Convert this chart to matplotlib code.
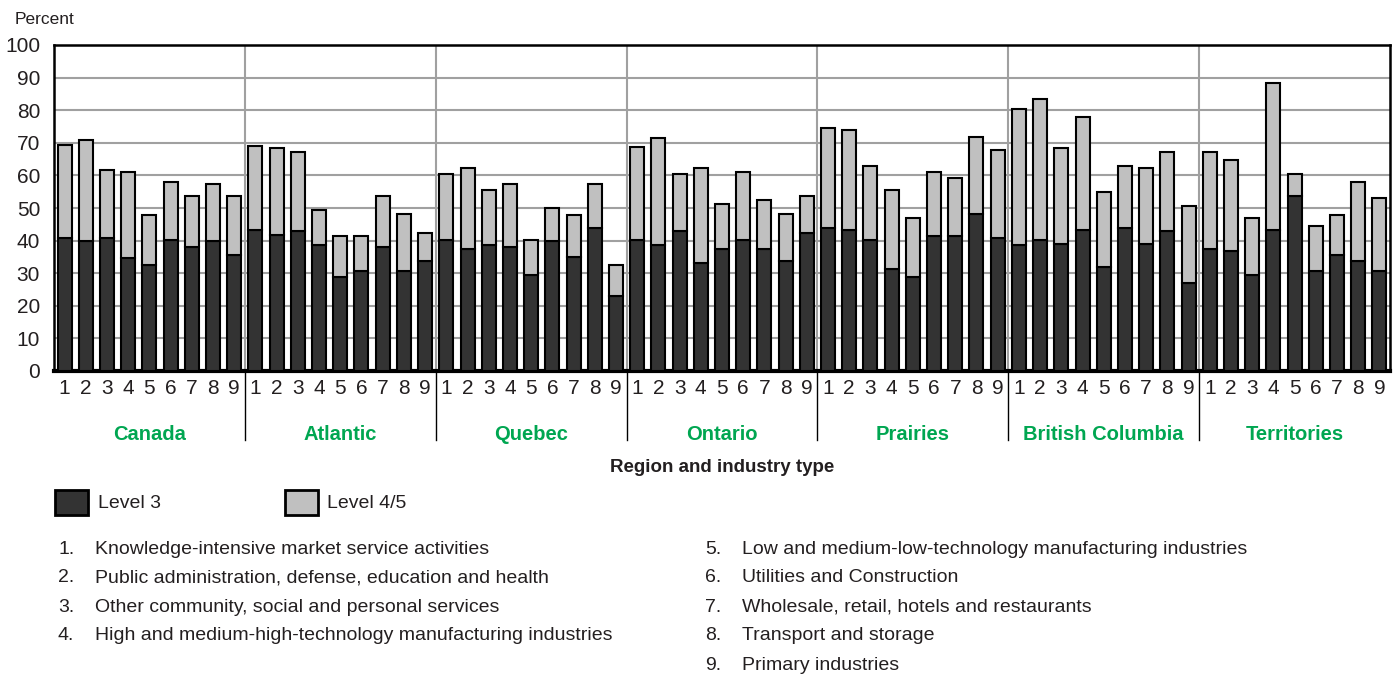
import numpy as np
from matplotlib import pyplot as plt
from matplotlib.patches import Rectangle

##Data

regions = ['Canada', 'Atlantic', 'Quebec', 'Ontario', 'Prairies', 'British Columbia', 'Territories']
industries = ['1', '2', '3', '4', '5', '6', '7', '8', '9']

# level 3 (bottom part) and total height (level 3 + level 4/5), one list per region
level3_canada = [40.9, 39.9, 40.9, 34.8, 32.5, 40.3, 37.9, 39.9, 35.5]
total_canada = [69.4, 70.8, 61.6, 61.0, 47.7, 57.9, 53.8, 57.3, 53.8]
level3_atlantic = [43.4, 41.6, 43.0, 38.6, 28.9, 30.8, 37.9, 30.8, 33.8]
total_atlantic = [68.9, 68.3, 67.1, 49.4, 41.4, 41.4, 53.8, 48.3, 42.3]
level3_quebec = [40.3, 37.4, 38.6, 37.9, 29.4, 39.9, 34.9, 44.0, 22.9]
total_quebec = [60.4, 62.3, 55.5, 57.3, 40.3, 50.1, 47.7, 57.3, 32.5]
level3_ontario = [40.3, 38.6, 43.0, 33.1, 37.4, 40.3, 37.4, 33.8, 42.3]
total_ontario = [68.8, 71.4, 60.4, 62.3, 51.3, 61.0, 52.4, 48.3, 53.8]
level3_prairies = [44.0, 43.4, 40.3, 31.3, 28.9, 41.5, 41.5, 48.3, 40.9]
total_prairies = [74.4, 73.8, 62.8, 55.5, 46.9, 61.0, 59.2, 71.9, 67.7]
level3_bc = [38.5, 40.3, 39.1, 43.4, 31.9, 44.0, 39.1, 42.9, 27.0]
total_bc = [80.4, 83.5, 68.3, 78.0, 54.9, 62.8, 62.2, 67.1, 50.7]
level3_territories = [37.4, 36.8, 29.4, 43.4, 53.8, 30.8, 35.5, 33.8, 30.7]
total_territories = [67.1, 64.7, 46.9, 88.4, 60.4, 44.6, 47.7, 57.9, 53.2]

legend_items = ['Knowledge-intensive market service activities',
                'Public administration, defense, education and health',
                'Other community, social and personal services',
                'High and medium-high-technology manufacturing industries',
                'Low and medium-low-technology manufacturing industries',
                'Utilities and Construction',
                'Wholesale, retail, hotels and restaurants',
                'Transport and storage',
                'Primary industries']

level3 = np.array(level3_canada + level3_atlantic + level3_quebec + level3_ontario
                  + level3_prairies + level3_bc + level3_territories)
total = np.array(total_canada + total_atlantic + total_quebec + total_ontario
                 + total_prairies + total_bc + total_territories)
level45 = total - level3

##Style

plt.rcParams['font.family'] = ['Liberation Sans', 'DejaVu Sans']
dark = '#333333'
light = '#c0c0c0'
green = '#00a651'
txt = '#231f20'
W, H = 1397, 677

fig = plt.figure(figsize=(W / 100, H / 100), dpi=100)
ax = fig.add_axes([54 / W, 1 - 371 / H, (1390 - 54) / W, (371 - 45) / H])

x = np.arange(len(level3))
ax.bar(x, level3, width=0.66, color=dark, edgecolor='black', linewidth=1.5, zorder=3)
ax.bar(x, level45, width=0.66, bottom=level3, color=light, edgecolor='black', linewidth=1.5, zorder=3)

ax.set_xlim(-0.5, len(x) - 0.5)
ax.set_ylim(0, 100)
ax.set_yticks(np.arange(0, 101, 10))
ax.yaxis.grid(True, color='#a0a0a0', linewidth=1.5, zorder=0)
ax.set_xticks(x)
ax.set_xticklabels(industries * len(regions))
ax.tick_params(axis='both', length=0, labelsize=15, colors=txt)
ax.tick_params(axis='x', pad=6)
ax.tick_params(axis='y', pad=10)

for s in ['left', 'top', 'right']:
    ax.spines[s].set_linewidth(1.8)
ax.spines['bottom'].set_linewidth(3)

# separateurs entre les regions
trans = ax.get_xaxis_transform()
for k in range(1, len(regions)):
    xs = k * 9 - 0.5
    ax.axvline(xs, color='#a0a0a0', linewidth=1.5, zorder=1)
    ax.plot([xs, xs], [0, -(440 - 371) / (371 - 45)], color='black', linewidth=1,
            transform=trans, clip_on=False)

for k, r in enumerate(regions):
    ax.text(k * 9 + 4, -(434 - 371) / (371 - 45), r, transform=trans, ha='center', va='center',
            color=green, fontsize=14.5, fontweight='bold')

ax.text(0.5, -(468 - 371) / (371 - 45), 'Region and industry type', transform=ax.transAxes,
        ha='center', va='center', fontsize=13.5, fontweight='bold', color=txt)

fig.text(15 / W, 1 - 19 / H, 'Percent', ha='left', va='center', fontsize=12.5, color=txt)

##Legende

fig.patches.append(Rectangle((55 / W, 1 - 515 / H), 33 / W, 25 / H, transform=fig.transFigure,
                             facecolor=dark, edgecolor='black', linewidth=2))
fig.text(98 / W, 1 - 504 / H, 'Level 3', ha='left', va='center', fontsize=14, color=txt)
fig.patches.append(Rectangle((285 / W, 1 - 515 / H), 33 / W, 25 / H, transform=fig.transFigure,
                             facecolor=light, edgecolor='black', linewidth=2))
fig.text(327 / W, 1 - 504 / H, 'Level 4/5', ha='left', va='center', fontsize=14, color=txt)

for i, item in enumerate(legend_items):
    if i < 4:
        xn, y = 58, 549 + 29 * i
    else:
        xn, y = 705, 549 + 29 * (i - 4)
    fig.text(xn / W, 1 - y / H, industries[i] + '.', ha='left', va='center', fontsize=14, color=txt)
    fig.text((xn + 37) / W, 1 - y / H, item, ha='left', va='center', fontsize=14, color=txt)

plt.savefig('out.png', dpi=100)
